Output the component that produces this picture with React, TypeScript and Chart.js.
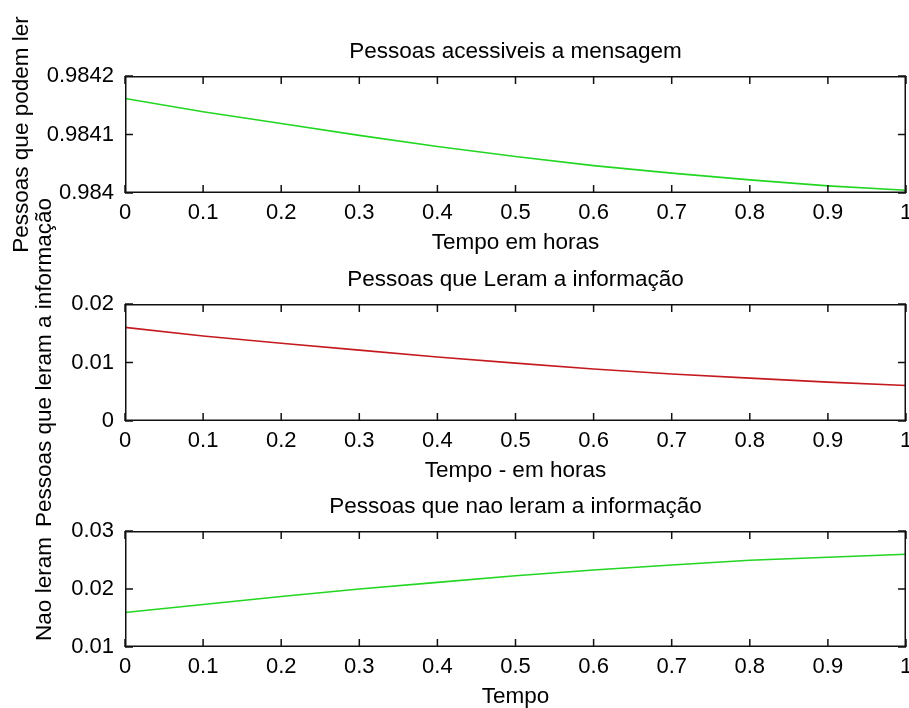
import { useEffect, useRef } from 'react';
import { Chart, registerables } from 'chart.js';

Chart.register(...registerables);

// Time axis (hours) shared by all three panels
const tempo = [0, 0.1, 0.2, 0.3, 0.4, 0.5, 0.6, 0.7, 0.8, 0.9, 1];

// People who can still read the message
const acessiveis = [0.9841616, 0.984139, 0.9841188, 0.9840985, 0.9840795, 0.9840623, 0.9840468, 0.984034, 0.9840224, 0.9840122, 0.9840046];
// People who read the information
const leram = [0.016, 0.01452, 0.01328, 0.01212, 0.01093, 0.0099, 0.00888, 0.00804, 0.00733, 0.00665, 0.00607];
// People who did not read the information
const naoLeram = [0.01595, 0.01733, 0.01872, 0.02, 0.02114, 0.02228, 0.02327, 0.02413, 0.02495, 0.02547, 0.02599];

// Tick values
const xTicks = [0, 0.1, 0.2, 0.3, 0.4, 0.5, 0.6, 0.7, 0.8, 0.9, 1];
const yTicksAcessiveis = [0.984, 0.9841, 0.9842];
const yTicksLeram = [0, 0.01, 0.02];
const yTicksNaoLeram = [0.01, 0.02, 0.03];

const W = 909;
const H = 708;
const FONT = "'Liberation Sans', Arial, Helvetica, sans-serif";
const TICK_FONT_SIZE = 22;
const TEXT_FONT_SIZE = 22.5;
const TICK_LEN = 8;
const LINE_W = 1.5;

type Panel = {
  title: string;
  xLabel: string;
  yLabel: string;
  yLabelX: number;
  values: number[];
  color: string;
  yTicks: number[];
  top: number;
  bottom: number;
};

const panels: Panel[] = [
  {
    title: 'Pessoas acessiveis a mensagem',
    xLabel: 'Tempo em horas',
    yLabel: 'Pessoas que podem ler',
    yLabelX: 28,
    values: acessiveis,
    color: '#22d622',
    yTicks: yTicksAcessiveis,
    top: 76,
    bottom: 193,
  },
  {
    title: 'Pessoas que Leram a informação',
    xLabel: 'Tempo - em horas',
    yLabel: 'Pessoas que leram a informação',
    yLabelX: 51,
    values: leram,
    color: '#c41a1f',
    yTicks: yTicksLeram,
    top: 304,
    bottom: 421,
  },
  {
    title: 'Pessoas que nao leram a informação',
    xLabel: 'Tempo',
    yLabel: 'Nao leram',
    yLabelX: 51,
    values: naoLeram,
    color: '#22d622',
    yTicks: yTicksNaoLeram,
    top: 531,
    bottom: 647,
  },
];

const fmt = (v: number) => String(Number(v.toFixed(5)));

// Box around the plot area with inward ticks on every side, plus title and axis labels
const framePlugin = {
  id: 'frame',
  afterDraw(chart: any, _args: any, opts: any) {
    const { ctx, chartArea, scales } = chart;
    const { left, right, top, bottom } = chartArea;
    const xs = scales.x;
    const ys = scales.y;
    ctx.save();
    ctx.fillStyle = '#111';
    // box
    ctx.fillRect(left, top, right - left, LINE_W);
    ctx.fillRect(left, bottom - LINE_W, right - left, LINE_W);
    ctx.fillRect(left, top, LINE_W, bottom - top);
    ctx.fillRect(right - LINE_W, top, LINE_W, bottom - top);
    // inward tick marks
    xTicks.forEach((v) => {
      const px = xs.getPixelForValue(v);
      ctx.fillRect(px - LINE_W / 2, bottom - TICK_LEN, LINE_W, TICK_LEN);
      ctx.fillRect(px - LINE_W / 2, top, LINE_W, TICK_LEN);
    });
    (opts.yTicks as number[]).forEach((v) => {
      const py = ys.getPixelForValue(v);
      ctx.fillRect(left, py - LINE_W / 2, TICK_LEN, LINE_W);
      ctx.fillRect(right - TICK_LEN, py - LINE_W / 2, TICK_LEN, LINE_W);
    });

    ctx.fillStyle = '#000';
    ctx.font = `${TEXT_FONT_SIZE}px ${FONT}`;
    ctx.textAlign = 'center';
    ctx.textBaseline = 'alphabetic';
    const cx = (left + right) / 2;
    ctx.fillText(opts.title, cx, top - 18);
    ctx.fillText(opts.xLabel, cx, bottom + 56);

    ctx.translate(opts.yLabelX, (top + bottom) / 2);
    ctx.rotate(-Math.PI / 2);
    ctx.fillText(opts.yLabel, 0, 0);
    ctx.restore();
  },
};

function PanelChart({ panel }: { panel: Panel }) {
  const ref = useRef<HTMLCanvasElement>(null);

  useEffect(() => {
    if (!ref.current) return;
    const tickFont = { family: FONT, size: TICK_FONT_SIZE };
    const chart = new Chart(ref.current, {
      type: 'line',
      data: {
        datasets: [
          {
            data: tempo.map((t, i) => ({ x: t, y: panel.values[i] })),
            borderColor: panel.color,
            borderWidth: 1.6,
            pointRadius: 0,
            tension: 0,
            fill: false,
          },
        ],
      },
      options: {
        animation: false,
        responsive: false,
        devicePixelRatio: 1,
        events: [],
        layout: {
          padding: { left: 0, right: W - 906, top: panel.top, bottom: H - panel.bottom - 50 },
        },
        plugins: {
          legend: { display: false },
          title: { display: false },
          tooltip: { enabled: false },
          frame: {
            title: panel.title,
            xLabel: panel.xLabel,
            yLabel: panel.yLabel,
            yLabelX: panel.yLabelX,
            yTicks: panel.yTicks,
          },
        } as any,
        scales: {
          x: {
            type: 'linear',
            min: 0,
            max: 1,
            grid: { display: false, drawTicks: false },
            border: { display: false },
            ticks: {
              font: tickFont,
              color: '#000',
              padding: 7,
              autoSkip: false,
              maxRotation: 0,
              callback: (v: any) => fmt(Number(v)),
            },
            afterBuildTicks: (s: any) => {
              s.ticks = xTicks.map((v) => ({ value: v }));
            },
            afterFit: (s: any) => {
              s.height = 50;
              s.paddingLeft = 0;
              s.paddingRight = 0;
            },
          },
          y: {
            type: 'linear',
            min: panel.yTicks[0],
            max: panel.yTicks[panel.yTicks.length - 1],
            grid: { display: false, drawTicks: false },
            border: { display: false },
            ticks: {
              font: tickFont,
              color: '#000',
              padding: 11,
              autoSkip: false,
              callback: (v: any) => fmt(Number(v)),
            },
            afterBuildTicks: (s: any) => {
              s.ticks = panel.yTicks.map((v) => ({ value: v }));
            },
            afterFit: (s: any) => {
              s.width = 125;
              s.paddingTop = 0;
              s.paddingBottom = 0;
            },
          },
        } as any,
      },
      plugins: [framePlugin],
    });
    return () => chart.destroy();
  }, [panel]);

  return (
    <canvas
      ref={ref}
      width={W}
      height={H}
      style={{ position: 'absolute', left: 0, top: 0, width: W, height: H }}
    />
  );
}

export default function App() {
  return (
    <div style={{ position: 'absolute', left: 0, top: 0, width: W, height: H, background: '#fff', overflow: 'hidden' }}>
      {panels.map((p) => (
        <PanelChart key={p.title} panel={p} />
      ))}
    </div>
  );
}
